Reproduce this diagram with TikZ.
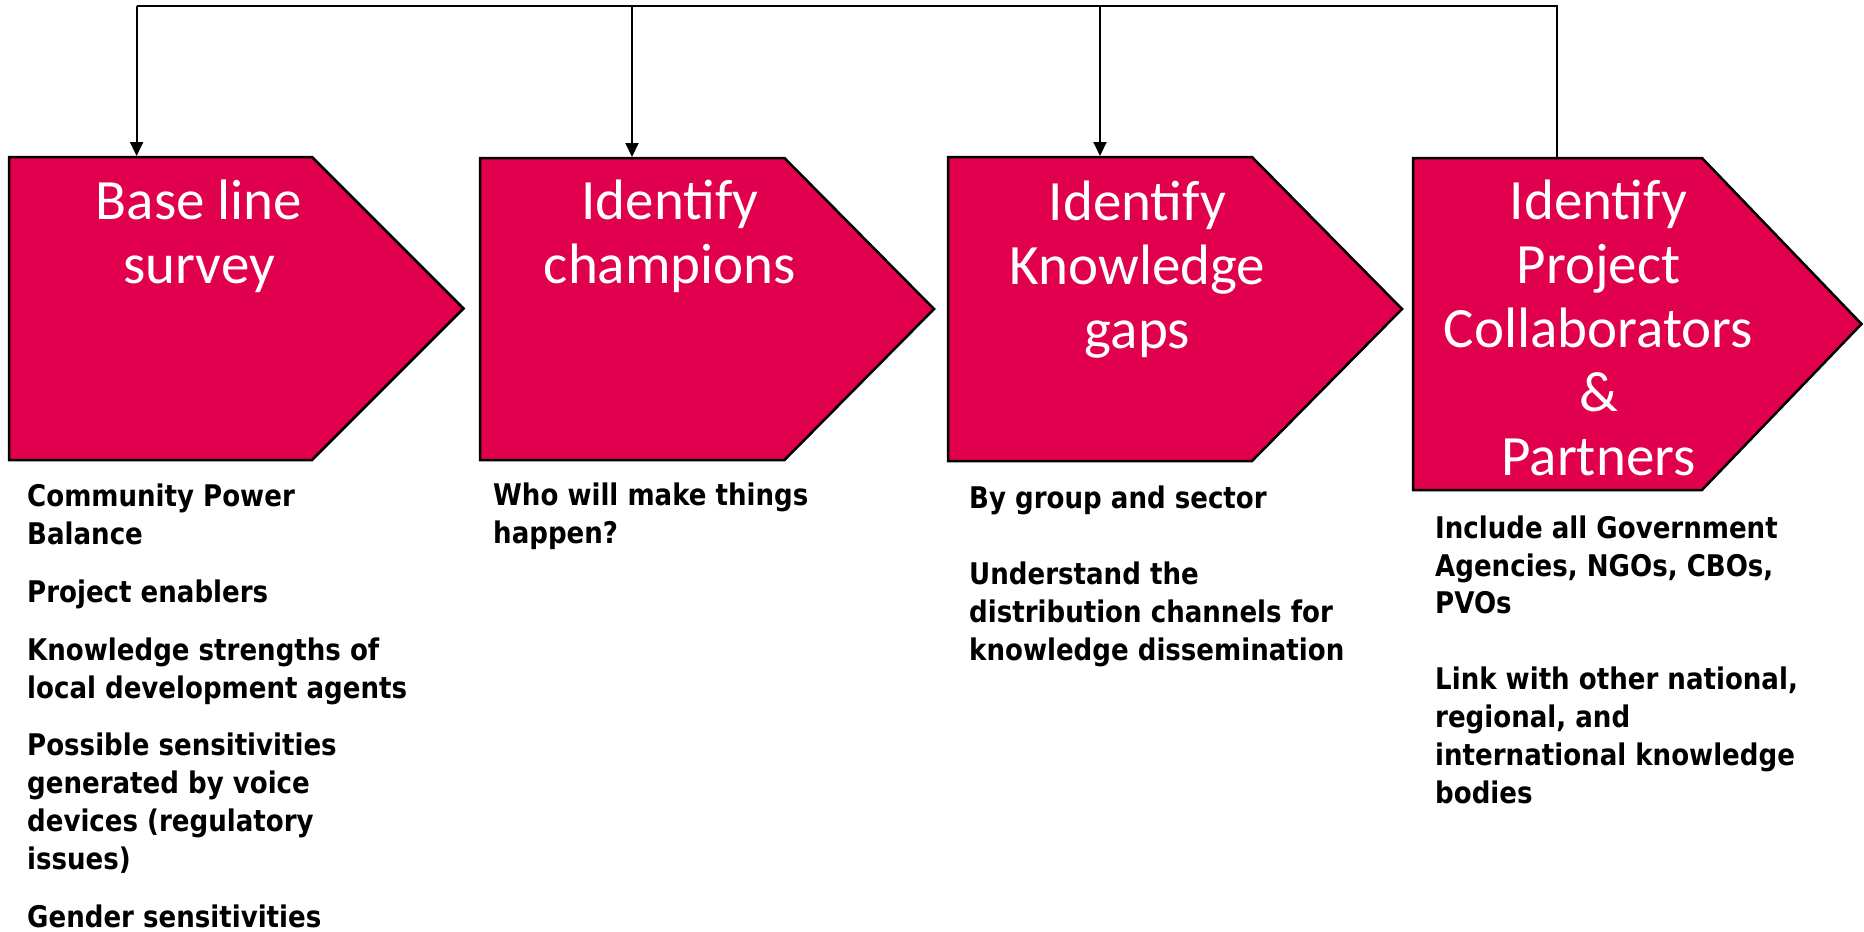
\documentclass[tikz,border=0pt]{standalone}
\usepackage{fontspec}
\usetikzlibrary{arrows.meta}
\newfontfamily\titlefont{Carlito}
\newfontfamily\bodyfont{DejaVu Sans}[FakeStretch=0.875]
\definecolor{crimson}{RGB}{224,0,77}
\begin{document}
\begin{tikzpicture}[x=1pt,y=-1pt,
  stage/.style={fill=crimson, draw=black, line width=2.5pt, line join=miter},
  title/.style={anchor=base, align=center, text=white, inner sep=0pt,
    font=\titlefont\fontsize{57}{64}\selectfont},
  body/.style={anchor=base west, align=left, inner sep=0pt,
    font=\bodyfont\bfseries\fontsize{29.8}{37.8}\selectfont},
  link/.style={line width=2pt, draw=black},
  arr/.style={link, -{Triangle[length=14pt,width=13pt]}}]
\useasboundingbox (0,0) rectangle (1864,932);

% stage shapes
\path[stage] (9,157) -- (312,157) -- (463.5,308.5) -- (312,460) -- (9,460) -- cycle;
\path[stage] (480,158) -- (784.5,158) -- (934,309) -- (784.5,460) -- (480,460) -- cycle;
\path[stage] (948,157) -- (1252,157) -- (1402,309) -- (1252,461) -- (948,461) -- cycle;
\path[stage] (1413,158) -- (1702,158) -- (1861.5,324) -- (1702,490) -- (1413,490) -- cycle;

\coordinate (s1top) at (136.6,156);
\coordinate (s2top) at (632,157);
\coordinate (s3top) at (1100,156);
\coordinate (s4top) at (1557,157);
\coordinate (j1) at (136.6,6);
\coordinate (j2) at (632,6);
\coordinate (j3) at (1100,6);
\coordinate (j4) at (1557,6);

% connectors
\draw[link] (s4top) -- (j4) -- (j1);
\draw[arr] (j1) -- (s1top);
\draw[arr] (j2) -- (s2top);
\draw[arr] (j3) -- (s3top);

% titles (anchored at the baseline of their last line)
\node[title] (t1) at (199,283) {Base line\\survey};
\node[title] (t2) at (670,283) {Identify\\champions};
\node[title] (t3) at (1137.5,348) {Identify\\Knowledge\\gaps};
\node[title] (t4) at (1598.5,475) {Identify\\Project\\Collaborators\\\&\\Partners};

% descriptions (anchored at the baseline of their last line)
\node[body] (b1) at (27,927) {Community Power\\Balance\\[20pt]Project enablers\\[20pt]Knowledge strengths of\\local development agents\\[20pt]Possible sensitivities\\generated by voice\\devices (regulatory\\issues)\\[20pt]Gender sensitivities};
\node[body] (b2) at (493,543) {Who will make things\\happen?};
\node[body] (b3) at (969,660) {By group and sector\\[38pt]Understand the\\distribution channels for\\knowledge dissemination};
\node[body] (b4) at (1435,803) {Include all Government\\Agencies, NGOs, CBOs,\\PVOs\\[38pt]Link with other national,\\regional, and\\international knowledge\\bodies};
\end{tikzpicture}
\end{document}
